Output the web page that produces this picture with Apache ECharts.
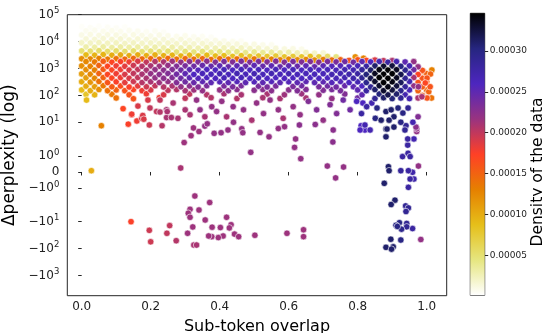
<!DOCTYPE html>
<html>
<head>
<meta charset="utf-8">
<script src="https://cdn.jsdelivr.net/npm/echarts@6/dist/echarts.min.js"></script>
<style>
  html, body { margin: 0; padding: 0; background: #fff; }
  #chart { width: 542px; height: 333px; }
</style>
</head>
<body>
<div id="chart"></div>
<script>
// tick values of the y axis (symlog) and of the x axis
const yTickValues = [1e5, 1e4, 1e3, 1e2, 1e1, 1, 0, -1, -10, -100, -1000];
const xTickValues = [0, 0.2, 0.4, 0.6, 0.8, 1.0];
const densityTicks = [0.00005, 0.0001, 0.00015, 0.0002, 0.00025, 0.0003];

// every point is [sub-token overlap, delta perplexity, density x 1e-5]
// pale upper fringe
const fringe = [
  [0,36000,0.3],[0.025,33000,0.4],[0.05,37000,0.3],[0.075,34000,0.4],[0.1,32000,0.4],[0.125,35000,0.3],
  [0.0125,25000,0.6],[0.0375,26500,0.6],[0.0625,24000,0.7],[0.0875,25500,0.7],[0.1125,23500,0.7],[0.1375,26000,0.6],[0.1625,24500,0.6],[0.1875,23000,0.5],[0.2125,25000,0.5],[0.2375,22500,0.4],
  [0,17500,0.9],[0.025,18500,1.0],[0.05,17000,1.1],[0.075,18000,1.1],[0.1,17500,1.1],[0.125,16500,1.0],[0.15,18000,1.0],[0.175,17000,0.9],[0.2,16000,0.9],[0.225,17500,0.9],[0.25,16500,0.8],[0.275,15500,0.7],[0.3,16500,0.7],[0.325,15000,0.6],[0.35,15500,0.5],[0.375,14500,0.4],
  [0.0125,12500,1.4],[0.0375,12000,1.5],[0.0625,13000,1.5],[0.0875,12000,1.6],[0.1125,12500,1.6],[0.1375,11500,1.5],[0.1625,12500,1.5],[0.1875,12000,1.4],[0.2125,11500,1.4],[0.2375,12000,1.4],[0.2625,11000,1.3],[0.2875,12000,1.3],[0.3125,11000,1.2],[0.3375,11500,1.1],[0.3625,10500,1.0],[0.3875,11000,0.9],[0.4125,10500,0.8],[0.4375,10000,0.7],[0.4625,10500,0.5],
  [0,9000,2],[0.025,8800,2.1],[0.05,9200,2.2],[0.075,8700,2.2],[0.1,9000,2.2],[0.125,8500,2.1],[0.15,9000,2.1],[0.175,8600,2.0],[0.2,8900,2],[0.225,8400,2],[0.25,8800,1.9],[0.275,8300,1.9],[0.3,8600,1.8],[0.325,8200,1.7],[0.35,8500,1.7],[0.375,8000,1.6],[0.4,8300,1.5],[0.425,7900,1.4],[0.45,8100,1.3],[0.475,7700,1.2],[0.5,7900,1.0],[0.525,7500,0.8],[0.55,7600,0.6],
  [0.0125,6300,3],[0.0375,6100,3.1],[0.0625,6400,3.2],[0.0875,6000,3.2],[0.1125,6300,3.2],[0.1375,6100,3.1],[0.1625,6300,3.1],[0.1875,5900,3],[0.2125,6200,3],[0.2375,5900,2.9],[0.2625,6200,2.9],[0.2875,5800,2.8],[0.3125,6000,2.7],[0.3375,5700,2.7],[0.3625,6000,2.6],[0.3875,5700,2.5],[0.4125,5900,2.4],[0.4375,5600,2.3],[0.4625,5800,2.2],[0.4875,5500,2.0],[0.5125,5700,1.8],[0.5375,5400,1.6],[0.5625,5600,1.4],[0.5875,5300,1.2],[0.6125,5400,1.0],[0.6375,5200,0.8],
  [0,4500,5],[0.025,4400,5.2],[0.05,4600,5.4],[0.075,4300,5.4],[0.1,4500,5.4],[0.125,4300,5.3],[0.15,4500,5.2],[0.175,4200,5.1],[0.2,4400,5],[0.225,4200,5],[0.25,4400,4.9],[0.275,4100,4.8],[0.3,4300,4.7],[0.325,4100,4.6],[0.35,4300,4.6],[0.375,4000,4.5],[0.4,4200,4.4],[0.425,4000,4.3],[0.45,4200,4.2],[0.475,3900,4.0],[0.5,4100,3.9],[0.525,3900,3.7],[0.55,4000,3.5],[0.575,3800,3.2],[0.6,4000,2.9],[0.625,3800,2.6],[0.65,3900,2.3],[0.675,3700,1.9],[0.7,3800,1.5],
  [0.0125,3200,9],[0.0375,3100,9.5],[0.0625,3300,9.5],[0.0875,3100,10],[0.1125,3200,10],[0.1375,3000,10],[0.1625,3200,10],[0.1875,3000,9.9],[0.2125,3200,9.8],[0.2375,3000,9.7],[0.2625,3100,9.5],[0.2875,2900,9.5],[0.3125,3100,9.3],[0.3375,2900,9.1],[0.3625,3100,9],[0.3875,2900,8.9],[0.4125,3000,8.7],[0.4375,2800,8.5],[0.4625,3000,8.3],[0.4875,2800,8.1],[0.5125,2900,7.9],[0.5375,2800,7.7],[0.5625,2900,7.5],[0.5875,2700,8],[0.6125,2800,7.5],[0.6375,2700,8],[0.6625,2800,8.5],[0.6875,2700,7.5],[0.7125,2800,5.5],[0.7375,2700,4.5]
];

// dense main band
const band = [
  [0,2300,12],[0.025,2250,12.5],[0.05,2350,13],[0.075,2200,13.5],[0.1,2300,14],[0.125,2200,14.5],[0.15,2350,14.5],[0.175,2250,14.5],[0.2,2300,14.5],[0.225,2200,14],[0.25,2350,14.5],[0.275,2200,14],[0.3,2300,14.5],[0.325,2200,14],[0.35,2300,14.5],[0.375,2150,14],[0.4,2300,14],[0.425,2200,14],[0.45,2250,14],[0.475,2150,13.5],[0.5,2250,13.5],[0.525,2150,13],[0.55,2200,13],[0.575,2100,12.5],[0.6,2200,12.5],[0.625,2100,12],[0.65,2150,12.5],[0.675,2050,12],[0.7,2150,13],[0.725,2050,14],[0.75,2100,15],[0.775,2000,16],[0.8,2100,16],[0.825,2000,17],[0.85,2050,19],[0.875,1950,20],[0.9,2000,19],
  [0.0125,1800,12.5],[0.0375,1750,13.5],[0.0625,1850,15.5],[0.0875,1700,17],[0.1125,1800,17.5],[0.1375,1750,18],[0.1625,1850,19],[0.1875,1700,20],[0.2125,1800,20.5],[0.2375,1750,21],[0.2625,1850,21.5],[0.2875,1700,22],[0.3125,1800,22.5],[0.3375,1750,23],[0.3625,1850,22.5],[0.3875,1700,23],[0.4125,1800,23.5],[0.4375,1750,23],[0.4625,1850,23.5],[0.4875,1700,23],[0.5125,1800,23.5],[0.5375,1750,23],[0.5625,1850,23],[0.5875,1700,23],[0.6125,1800,23.5],[0.6375,1750,23],[0.6625,1800,23],[0.6875,1700,23],[0.7125,1800,23.5],[0.7375,1750,23.5],[0.7625,1800,24],[0.7875,1700,24],[0.8125,1800,25],[0.8375,1750,26],[0.8625,1800,27],[0.8875,1700,28],[0.9125,1800,27],[0.9375,1750,25],[0.9625,1800,22],
  [0,1250,12],[0.025,1200,13],[0.05,1300,15],[0.075,1200,17],[0.1,1250,18],[0.125,1200,18.5],[0.15,1300,19.5],[0.175,1200,20.5],[0.2,1250,21],[0.225,1200,21.5],[0.25,1300,22],[0.275,1200,23],[0.3,1250,23.5],[0.325,1200,24],[0.35,1300,24.5],[0.375,1200,24.5],[0.4,1250,25],[0.425,1150,24.5],[0.45,1250,25],[0.475,1200,24.5],[0.5,1300,25],[0.525,1200,24.5],[0.55,1250,25],[0.575,1150,24.5],[0.6,1250,25],[0.625,1200,24.5],[0.65,1250,25],[0.675,1150,24.5],[0.7,1250,25],[0.725,1200,25.5],[0.75,1250,25.5],[0.775,1150,26],[0.8,1250,26.5],[0.825,1200,28],[0.85,1250,31],[0.875,1200,33],[0.9,1250,32.5],[0.925,1200,30],[0.95,1250,27],[0.975,1150,22],
  [0.0125,900,12],[0.0375,870,13],[0.0625,930,15.5],[0.0875,880,17],[0.1125,920,18],[0.1375,870,19],[0.1625,910,20],[0.1875,860,21],[0.2125,900,22],[0.2375,860,22.5],[0.2625,910,23],[0.2875,870,24],[0.3125,900,25],[0.3375,860,25.5],[0.3625,910,26],[0.3875,870,26],[0.4125,900,26.5],[0.4375,860,26],[0.4625,910,26.5],[0.4875,870,26],[0.5125,900,26.5],[0.5375,860,26],[0.5625,910,26.5],[0.5875,870,26],[0.6125,900,26.5],[0.6375,860,26],[0.6625,900,26.5],[0.6875,870,26],[0.7125,900,26.5],[0.7375,860,26.5],[0.7625,900,27],[0.7875,870,27],[0.8125,900,28.5],[0.8375,870,31],[0.8625,900,34],[0.8875,870,34.5],[0.9125,900,33.5],[0.9375,870,29.5],[0.9625,900,24],[0.9875,850,16],
  [0,630,11],[0.025,610,12.5],[0.05,650,15],[0.075,600,17],[0.1,640,18],[0.125,600,19],[0.15,650,20],[0.175,610,21],[0.2,640,22],[0.225,600,22.5],[0.25,650,23],[0.275,610,24],[0.3,640,25],[0.325,600,26],[0.35,650,26.5],[0.375,610,26.5],[0.4,640,27],[0.425,600,26.5],[0.45,650,27],[0.475,610,26.5],[0.5,640,27],[0.525,600,26.5],[0.55,650,27],[0.575,610,26.5],[0.6,640,27],[0.625,600,26.5],[0.65,650,26.5],[0.675,610,26.5],[0.7,640,26.5],[0.725,600,27],[0.75,650,27],[0.775,610,27.5],[0.8,640,28],[0.825,600,30.5],[0.85,650,33.5],[0.875,610,34.5],[0.9,640,34.5],[0.925,600,32],[0.95,650,27.5],[0.975,600,17],[1.0,640,15],
  [0.0125,450,11],[0.0375,430,12.5],[0.0625,460,15],[0.0875,440,17],[0.1125,460,18],[0.1375,430,19],[0.1625,460,20],[0.1875,430,21],[0.2125,450,22],[0.2375,430,22.5],[0.2625,460,23],[0.2875,430,24],[0.3125,450,25],[0.3375,430,25.5],[0.3625,460,26],[0.3875,430,26],[0.4125,450,26.5],[0.4375,430,26],[0.4625,460,26.5],[0.4875,430,26],[0.5125,450,26.5],[0.5375,430,26],[0.5625,460,26],[0.5875,430,26],[0.6125,450,26],[0.6375,430,26],[0.6625,460,26],[0.6875,430,26],[0.7125,450,26],[0.7375,430,26.5],[0.7625,460,27],[0.7875,430,27.5],[0.8125,450,29],[0.8375,430,32],[0.8625,460,34.5],[0.8875,430,34.5],[0.9125,450,33.5],[0.9375,430,29],[0.9625,460,21],[0.9875,430,16],
  [0,320,10],[0.025,310,11.5],[0.05,330,14],[0.075,300,16],[0.1,320,17.5],[0.125,300,18.5],[0.15,330,19.5],[0.175,300,20.5],[0.2,320,21],[0.225,300,21.5],[0.25,330,22],[0.275,300,23],[0.3,320,24],[0.325,300,24.5],[0.35,330,25],[0.375,300,25],[0.4,320,25.5],[0.425,300,25],[0.45,330,25.5],[0.475,300,25],[0.5,320,25.5],[0.525,300,25],[0.55,330,25.5],[0.575,300,25],[0.6,320,25.5],[0.625,300,25],[0.65,330,25],[0.675,300,25],[0.7,320,25],[0.725,300,25.5],[0.75,330,25.5],[0.775,300,26],[0.8,320,27],[0.825,300,29.5],[0.85,330,33],[0.875,300,34.5],[0.9,320,34],[0.925,300,31.5],[0.95,330,27],[0.975,300,16],[1.0,320,15],
  [0.0125,220,10],[0.0375,210,11],[0.0625,230,13.5],[0.0875,210,15.5],[0.1125,225,16.5],[0.1375,205,17.5],[0.1625,225,18.5],[0.1875,210,19.5],[0.2125,230,20],[0.2375,205,20.5],[0.2625,225,21],[0.2875,210,22],[0.3125,225,22.5],[0.3375,205,23],[0.3625,230,23.5],[0.4125,225,23.5],[0.4375,210,23.5],[0.4625,230,23.5],[0.5125,220,23.5],[0.5375,205,23.5],[0.5625,225,23.5],[0.6125,215,23.5],[0.6375,230,24],[0.6875,210,23.5],[0.7125,225,24],[0.7375,205,24],[0.7625,230,24.5],[0.7875,210,25],[0.8125,225,26],[0.8375,205,29],[0.8625,230,33],[0.8875,210,34],[0.9125,225,32.5],[0.9375,210,28.5],[0.9625,225,22],[0.9875,210,15.5],
  [0,160,9],[0.025,150,10],[0.05,165,12],[0.075,150,14],[0.1,160,15],[0.125,150,16],[0.15,165,17],[0.175,150,18],[0.2,160,19],[0.25,155,20],[0.275,165,20.5],[0.3,150,21],[0.325,160,21.5],[0.35,150,22],[0.4,160,22],[0.425,150,22.5],[0.45,165,22.5],[0.5,155,22.5],[0.525,165,22.5],[0.55,150,22.5],[0.6,160,22.5],[0.625,150,23],[0.65,165,23],[0.7,155,23],[0.725,165,23.5],[0.75,150,23.5],[0.8,160,25],[0.825,150,28],[0.85,165,31],[0.875,150,33],[0.9,160,32.5],[0.925,150,29.5],[0.95,160,26.5],[0.975,150,15],[1.0,160,14.5],
  [0.0125,110,8],[0.0375,105,9.5],[0.0875,110,13.5],[0.1375,105,16],[0.1875,115,18],[0.2375,105,19],[0.3125,112,20],[0.3625,105,20.5],[0.4125,115,21],[0.4625,105,21],[0.5375,112,21],[0.5875,105,21.5],[0.6375,115,21.5],[0.6875,105,22],[0.7625,112,23],[0.8125,105,25],[0.8625,112,30.5],[0.8875,105,32],[0.9125,112,31],[0.9375,105,27],[0.9875,100,15],
  [0.1,80,14],[0.15,75,16],[0.225,82,18],[0.3,78,20],[0.375,82,20.5],[0.45,76,20.5],[0.525,82,21],[0.575,76,21],[0.65,80,21],[0.725,76,22],[0.8,80,24],[0.85,76,29],[0.875,82,31],[0.9,76,30.5],[0.925,80,29],[0.95,76,27],[0.975,80,21],
  [0.014,67,9],[0.793,2700,12],[0.817,2400,13],[0.845,1900,16],[0.9,1950,21],
  [0.991,760,14],[1.011,620,15],[1.001,440,16],[0.996,290,17],[1.01,210,16],[1.006,137,15],[1.001,80,16],[1.014,80,14],[0.986,89,21],[0.976,210,22],[1.015,880,13]
];

// scattered points under the band and in the right-hand tail
const sparse = [
  [0.12,32,17],[0.145,19,18],[0.163,40,19],[0.174,14,19],[0.192,67,19],[0.198,34,20],[0.217,25,20],[0.227,67,20],[0.246,29,21],[0.265,52,21],[0.279,14,21],[0.3,29,21],[0.314,19,21],[0.333,67,22],[0.343,29,22],[0.357,16,21],[0.377,38,22],[0.391,25,22],[0.406,60,22],[0.42,16,21],[0.439,38,22],[0.469,29,22],[0.493,12,21],[0.507,52,22],[0.527,21,22],[0.546,67,22],[0.57,29,22],[0.584,14,21],[0.613,38,22],[0.633,19,22],[0.657,60,23],[0.681,29,23],[0.7,12,22],[0.72,45,23],[0.739,21,23],[0.758,67,24],[0.778,29,24],[0.797,60,26],[0.811,21,28],[0.826,38,28],
  [0.057,7.9,13],[0.028,0.08,10],[0.135,8.8,17.5],[0.145,20,18],[0.16,11.2,18],[0.177,17.9,19],[0.18,13,19],[0.196,8.3,19.5],[0.233,7.9,20.5],[0.227,24,20.5],[0.246,15,21],[0.26,15,21],[0.248,25,21],[0.297,2.5,21.5],[0.287,0.25,21],[0.317,4.0,21.5],[0.324,6.8,21.5],[0.34,5.3,21.5],[0.357,7.7,22],[0.364,9.0,22],[0.384,4.7,22],[0.404,4.9,22],[0.424,5.9,22],[0.44,10,22],[0.464,6.4,22],[0.467,4.9,22],[0.49,1.28,22],[0.517,5.0,22],[0.543,3.7,22],[0.57,6.5,22],[0.588,7.4,22],[0.62,3.2,22],[0.617,1.8,22],[0.635,0.83,22],[0.631,8.3,22.5],[0.677,8.6,22.5],[0.712,0.37,22],[0.728,2.6,22.5],[0.729,5.9,22.5],[0.736,-0.37,22],[0.759,0.31,22],[0.81,7.9,26],[0.821,5.9,26],[0.836,5.9,27],
  [0.882,3.7,31],[0.882,6.3,31],[0.889,0.33,31],[0.891,0.08,31],[0.877,-0.71,31],[0.93,0.96,28],[0.946,1.2,28],[0.952,0.96,28],[0.945,2.1,28],[0.945,3.2,28],[0.963,3.2,27],[0.925,0.08,28.5],[0.947,0.08,28],[0.959,-0.02,27.5],[0.976,0.37,22],[0.952,-0.44,28],[0.963,-0.44,27.5],[0.947,-0.96,28],[0.971,5.3,22],[0.971,6.4,22],
  [0.815,52,26],[0.841,52,27],[0.856,34,30],[0.882,25,31],[0.897,29,31],[0.917,34,30.5],[0.931,22,30],[0.946,34,29],[0.905,16,31],[0.891,12,31],[0.868,12,31],[0.851,14,30],[0.925,10,30],[0.94,7.9,29],[0.96,10,27],[0.975,16,23],[0.969,7.2,22.5],[0.885,6.3,31],[0.905,7.2,31],[0.937,5.9,29],[0.821,8.3,27],[0.807,5.9,26]
];

// points below zero
const negatives = [
  [0.328,-1.73,21.5],[0.371,-2.7,21.5],[0.314,-4.3,21.5],[0.34,-4.5,21.5],[0.309,-5.6,21.5],[0.314,-7.4,21.5],[0.358,-8.9,21.5],[0.42,-7.4,21.5],[0.322,-15.7,21.5],[0.378,-16,21.5],[0.402,-16.5,21.5],[0.433,-13,21.5],[0.428,-17,21.5],[0.41,-34,21.5],[0.396,-39,21.5],[0.377,-36,21.5],[0.368,-34,21.5],[0.307,-27,21.5],[0.443,-29,21.5],[0.455,-36,21.5],[0.502,-32,21.5],[0.595,-27,21.5],[0.643,-20,21.5],[0.643,-36,21.5],
  [0.143,-10,17.5],[0.196,-21,19.5],[0.2,-56,19.5],[0.247,-27,20],[0.255,-14,20],[0.274,-51,20.5],[0.325,-74,21],[0.333,-74,21],
  [0.908,-2.3,31],[0.897,-3.1,31],[0.939,-3.4,29],[0.947,-3.9,29],[0.94,-5.0,29],[0.921,-10.9,30],[0.911,-13.6,30],[0.915,-15,30],[0.942,-11.6,29],[0.942,-15.5,29],[0.959,-18,28],[0.927,-19,29.5],[0.896,-45,31],[0.925,-48,30],[0.882,-90,31],[0.903,-86,31],[0.898,-105,31],[0.983,-46,22]
];

// axis ranges
const xRange = [-0.0417, 1.058];
const yRange = [-5650, 1e5];
const densityRange = [0.000001, 0.000346];

// reversed CMRmap, low density -> high density
const cmap = ['#ffffff', '#e6e680', '#e6bf1a', '#e68000', '#ff4026', '#993380', '#4d26bf', '#262680', '#000000'];

// symmetric log scale used by the y axis
function symlog(v) {
  const a = Math.abs(v), s = v < 0 ? -1 : 1;
  const L = 0.595, K = 1.253;
  if (a <= 1) return s * a * L;
  if (a <= 10) return s * (L + K * Math.log10(a));
  return s * (L + K + Math.log10(a) - 1);
}

function tickLabel(v) {
  if (v === 0) return '{m|0}';
  const e = Math.round(Math.log10(Math.abs(v)));
  return '{m|' + (v < 0 ? '\u221210' : '10') + '}{s|' + e + '}';
}

const font = 'DejaVu Sans';
const points = fringe.concat(band, sparse, negatives)
  .map(p => [p[0], symlog(p[1]), p[2] * 1e-5])
  .sort((a, b) => a[2] - b[2]);

const labelMap = {};
yTickValues.forEach(v => { labelMap[symlog(v).toFixed(3)] = tickLabel(v); });

const chart = echarts.init(document.getElementById('chart'));
chart.setOption({
  animation: false,
  textStyle: { fontFamily: font },
  grid: [
    { left: 67.3, top: 14.7, width: 379.4, height: 281, outerBoundsMode: 'none', containLabel: false, show: true, borderColor: '#262626', borderWidth: 1, backgroundColor: 'transparent' },
    { left: 470.3, top: 13.3, width: 14.4, height: 282, outerBoundsMode: 'none', containLabel: false, show: true, borderColor: '#262626', borderWidth: 1, backgroundColor: 'transparent' }
  ],
  visualMap: {
    show: false,
    type: 'continuous',
    seriesIndex: 0,
    dimension: 2,
    min: densityRange[0],
    max: densityRange[1],
    inRange: { color: cmap }
  },
  xAxis: [
    {
      type: 'value', gridIndex: 0,
      min: xRange[0], max: xRange[1],
      name: 'Sub-token overlap', nameLocation: 'middle', nameGap: 23,
      nameTextStyle: { fontSize: 16, color: '#000', fontFamily: font },
      axisLine: { show: false },
      axisTick: { show: true, inside: false, length: 3.5, customValues: xTickValues, lineStyle: { color: '#262626' } },
      axisLabel: { customValues: xTickValues, margin: 5, fontSize: 12, color: '#222', formatter: v => v.toFixed(1) },
      splitLine: { show: false }
    },
    {
      type: 'category', gridIndex: 1, data: [''],
      axisLine: { show: false }, axisTick: { show: false }, axisLabel: { show: false }
    }
  ],
  yAxis: [
    {
      type: 'value', gridIndex: 0,
      min: symlog(yRange[0]), max: symlog(yRange[1]),
      name: '\u0394perplexity (log)', nameLocation: 'middle', nameGap: 41,
      nameTextStyle: { fontSize: 17, color: '#000', fontFamily: font },
      axisLine: { show: false },
      axisTick: { show: true, inside: false, length: 3.5, customValues: yTickValues.map(symlog), lineStyle: { color: '#262626' } },
      axisLabel: {
        customValues: yTickValues.map(symlog), margin: 8, color: '#222',
        formatter: v => labelMap[v.toFixed(3)] || '',
        rich: {
          m: { fontSize: 12, fontFamily: font, color: '#222' },
          s: { fontSize: 8.5, fontFamily: font, color: '#222', padding: [0, 0, 7, 0] }
        }
      },
      splitLine: { show: false }
    },
    {
      type: 'value', gridIndex: 1, position: 'right',
      min: densityRange[0], max: densityRange[1],
      axisLine: { show: false },
      axisTick: { show: true, inside: false, length: 3.5, customValues: densityTicks, lineStyle: { color: '#262626' } },
      axisLabel: { customValues: densityTicks, margin: 5, fontSize: 9, color: '#222', formatter: v => v.toFixed(5) },
      splitLine: { show: false }
    }
  ],
  graphic: [{
    type: 'text', x: 538, y: 172, rotation: Math.PI / 2,
    style: { text: 'Density of the data', font: '15.5px "DejaVu Sans"', fill: '#000', align: 'center', verticalAlign: 'middle' }
  }],
  series: [
    {
      type: 'scatter', xAxisIndex: 0, yAxisIndex: 0,
      data: points, symbolSize: 6.5,
      itemStyle: { borderColor: '#fff', borderWidth: 0.6, opacity: 1 },
      silent: true
    },
    {
      type: 'bar', xAxisIndex: 1, yAxisIndex: 1,
      data: [densityRange[1]], barWidth: '100%', silent: true,
      itemStyle: {
        color: new echarts.graphic.LinearGradient(0, 0, 0, 1,
          cmap.slice().reverse().map((c, i) => ({ offset: i / (cmap.length - 1), color: c })))
      }
    }
  ]
});
</script>
</body>
</html>
